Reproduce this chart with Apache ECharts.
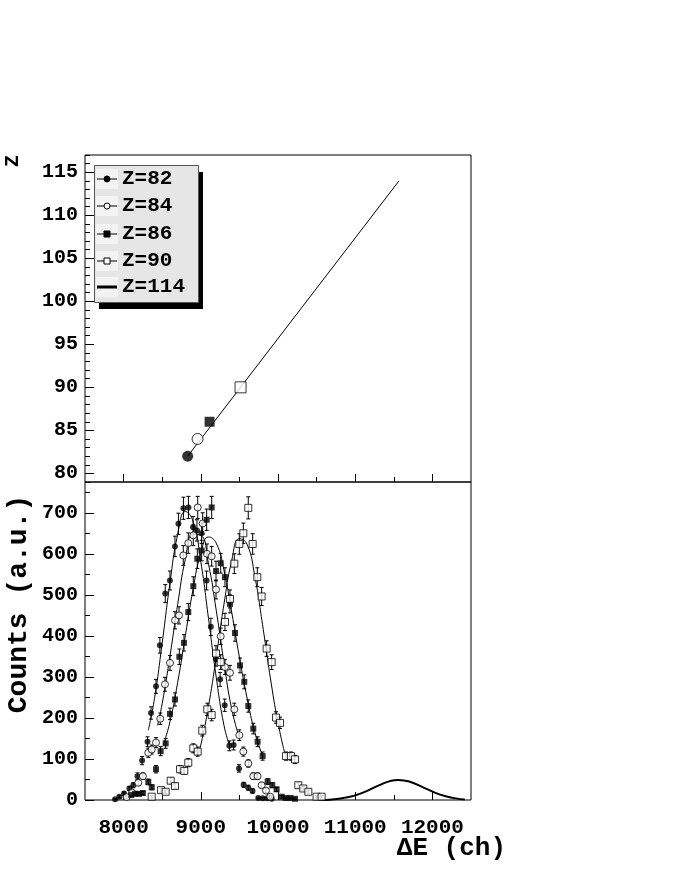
<!DOCTYPE html>
<html>
<head>
<meta charset="utf-8">
<script src="https://cdn.jsdelivr.net/npm/echarts@6.0.0/dist/echarts.min.js"></script>
<style>
  html, body { margin: 0; padding: 0; background: #fff; }
  #chart { width: 680px; height: 880px; }
</style>
</head>
<body>
<div id="chart"></div>
<script>
// upper panel: Z vs peak position
var topNames = ['Z=82', 'Z=84', 'Z=86', 'Z=90']
var topDE = [8830, 8958, 9114, 9515]
var topZ = [82, 84, 86, 90]
var lineDE = [8830, 11568]
var lineZ = [82, 114]

// lower panel: measured spectra [dE, counts, error]
var z82Pts = [[7890,2,1],[7945,8,3],[8005,16,4],[8075,28,5],[8125,36,6],[8180,58,8],[8240,96,10],[8310,142,12],[8355,212,15],[8420,277,17],[8470,377,19],[8540,503,22],[8600,535,23],[8665,618,25],[8710,673,26],[8775,711,27],[8840,713,27],[8900,665,26],[8950,657,26],[9010,650,25],[9075,535,23],[9130,422,21],[9195,345,19],[9250,294,17],[9310,231,15],[9370,132,12],[9425,134,12],[9495,77,9],[9555,37,6],[9615,30,6],[9670,22,5],[9745,5,2],[9800,4,2],[9860,4,2],[9920,3,2]]
var z84Pts = [[8040,7,3],[8110,18,4],[8190,42,6],[8250,58,8],[8320,115,11],[8365,123,11],[8420,140,12],[8475,198,14],[8536,282,17],[8601,334,18],[8666,438,21],[8718,450,21],[8773,596,24],[8838,626,25],[8903,645,25],[8960,713,27],[9024,674,26],[9080,600,24],[9141,594,24],[9197,513,23],[9258,399,20],[9313,324,18],[9378,310,18],[9434,221,15],[9499,158,13],[9551,118,11],[9616,89,9],[9680,58,8],[9736,58,8],[9788,36,6],[9844,23,5],[9900,8,3]]
var z86Pts = [[8100,12,3],[8150,15,4],[8200,15,4],[8250,17,4],[8320,44,7],[8365,31,6],[8420,75,9],[8480,119,11],[8545,138,12],[8601,210,14],[8666,245,16],[8722,349,19],[8782,383,20],[8838,458,21],[8903,521,23],[8955,588,24],[9011,608,25],[9076,683,26],[9141,713,27],[9197,558,24],[9258,577,24],[9313,543,23],[9378,478,22],[9443,407,20],[9508,328,18],[9563,288,17],[9615,229,15],[9680,174,13],[9736,142,12],[9801,107,10],[9866,45,7],[9926,36,6],[9982,26,5],[10047,8,3],[10100,5,2],[10160,5,2],[10220,3,2]]
var z90Pts = [[8364,8,3],[8485,24,5],[8545,20,4],[8610,47,7],[8666,34,6],[8731,75,9],[8786,71,8],[8838,91,10],[8903,126,11],[8960,118,11],[9019,169,13],[9084,221,15],[9141,207,14],[9197,357,19],[9258,336,18],[9313,434,21],[9378,490,22],[9434,576,24],[9499,624,25],[9551,650,25],[9615,712,27],[9672,624,25],[9732,543,23],[9788,496,22],[9853,369,19],[9918,336,18],[9974,201,14],[10026,188,14],[10104,107,10],[10168,107,10],[10220,99,10],[10263,36,6],[10328,28,5],[10393,20,4],[10500,8,3],[10565,8,3]]

// fitted curves
var fit82 = [[8320,170],[8400,247],[8500,383],[8600,528],[8700,647],[8800,703],[8900,679],[9000,581],[9100,442],[9200,299],[9300,182],[9370,135]]
var fit84 = [[8440,182],[8500,235],[8600,350],[8700,476],[8800,587],[8900,647],[9000,645],[9100,575],[9200,462],[9300,335],[9400,222],[9500,152]]
var fit86 = [[8515,135],[8600,190],[8700,286],[8800,401],[8900,514],[9000,601],[9100,641],[9200,626],[9300,560],[9400,458],[9500,348],[9600,248],[9700,165],[9800,108]]
var fit90 = [[8950,105],[9000,134],[9100,229],[9200,349],[9300,477],[9400,583],[9500,637],[9600,623],[9700,545],[9800,427],[9900,299],[10000,188],[10090,112]]
var fit114 = [[10550,0],[10700,1.5],[10900,6.5],[11100,18],[11300,35],[11450,46],[11560,49],[11700,45],[11900,29],[12100,13],[12300,4],[12420,1]]

// axis ticks
var xLabels = [8000, 9000, 10000, 11000, 12000]
var xMinor = [8500, 9500, 10500, 11500]
var zLabels = [80, 85, 90, 95, 100, 105, 110, 115]
var zMinor = []
for (var k = 79; k <= 117; k++) zMinor.push(k)
var cLabels = [0, 100, 200, 300, 400, 500, 600, 700]
var cMinor = [50, 150, 250, 350, 450, 550, 650, 750]

var mono = '"Liberation Mono", "DejaVu Sans Mono", monospace'

function plain (v) { return String(v) }

function xAxisCfg (grid, ticks, len, labels) {
  return {
    gridIndex: grid,
    type: 'value',
    position: 'bottom',
    min: 7500,
    max: 12500,
    axisLine: { show: false },
    splitLine: { show: false },
    axisTick: { inside: true, length: len, customValues: ticks, lineStyle: { color: '#000' } },
    axisLabel: labels
      ? { customValues: labels, formatter: plain, margin: 17, color: '#000', fontFamily: mono, fontWeight: 'bold', fontSize: 21 }
      : { show: false }
  }
}

function yAxisCfg (grid, min, max, ticks, len, labels) {
  return {
    gridIndex: grid,
    type: 'value',
    position: 'left',
    min: min,
    max: max,
    axisLine: { show: false },
    splitLine: { show: false },
    axisTick: { inside: true, length: len, customValues: ticks, lineStyle: { color: '#000' } },
    axisLabel: labels
      ? { customValues: labels, formatter: plain, margin: 7, color: '#000', fontFamily: mono, fontWeight: 'bold', fontSize: 20 }
      : { show: false }
  }
}

function errRender (params, api) {
  var x = api.value(0)
  var y = api.value(1)
  var e = api.value(2)
  var lo = api.coord([x, Math.max(y - e, 0)])
  var hi = api.coord([x, y + e])
  var st = { stroke: '#000', lineWidth: 1 }
  return {
    type: 'group',
    children: [
      { type: 'line', shape: { x1: lo[0], y1: lo[1], x2: hi[0], y2: hi[1] }, style: st },
      { type: 'line', shape: { x1: hi[0] - 2, y1: hi[1], x2: hi[0] + 2, y2: hi[1] }, style: st },
      { type: 'line', shape: { x1: lo[0] - 2, y1: lo[1], x2: lo[0] + 2, y2: lo[1] }, style: st }
    ]
  }
}

var filled = { color: '#000' }
var open = { color: '#fff', borderColor: '#000', borderWidth: 1 }
var markStyles = [
  { sym: 'circle', item: filled, top: 11, bot: 6 },
  { sym: 'circle', item: open, top: 11, bot: 7 },
  { sym: 'rect', item: filled, top: 10, bot: 6 },
  { sym: 'rect', item: open, top: 11, bot: 7 }
]
var spectra = [z82Pts, z84Pts, z86Pts, z90Pts]
var fits = [fit82, fit84, fit86, fit90]

var series = []
// upper panel
series.push({
  type: 'line',
  xAxisIndex: 0,
  yAxisIndex: 0,
  data: lineDE.map(function (d, i) { return [d, lineZ[i]] }),
  symbol: 'none',
  lineStyle: { color: '#000', width: 1 },
  silent: true
})
for (var i = 0; i < topNames.length; i++) {
  series.push({
    name: topNames[i],
    type: 'scatter',
    xAxisIndex: 0,
    yAxisIndex: 0,
    data: [[topDE[i], topZ[i]]],
    symbol: markStyles[i].sym,
    symbolSize: markStyles[i].top,
    itemStyle: markStyles[i].item,
    z: 5
  })
}
// lower panel
for (var j = 0; j < spectra.length; j++) {
  series.push({
    type: 'custom',
    xAxisIndex: 2,
    yAxisIndex: 2,
    data: spectra[j],
    encode: { x: 0, y: 1 },
    renderItem: errRender,
    silent: true,
    z: 2
  })
  series.push({
    type: 'line',
    xAxisIndex: 2,
    yAxisIndex: 2,
    data: fits[j],
    smooth: true,
    symbol: 'none',
    lineStyle: { color: '#000', width: 1 },
    silent: true,
    z: 3
  })
  series.push({
    name: topNames[j],
    type: 'scatter',
    xAxisIndex: 2,
    yAxisIndex: 2,
    data: spectra[j].map(function (p) { return [p[0], p[1]] }),
    symbol: markStyles[j].sym,
    symbolSize: markStyles[j].bot,
    itemStyle: markStyles[j].item,
    z: 4
  })
}
series.push({
  name: 'Z=114',
  type: 'line',
  xAxisIndex: 2,
  yAxisIndex: 2,
  data: fit114,
  smooth: true,
  symbol: 'none',
  lineStyle: { color: '#000', width: 2 },
  silent: true,
  z: 3
})

// legend drawn as a framed box with a hard shadow
var legendNames = ['Z=82', 'Z=84', 'Z=86', 'Z=90', 'Z=114']
var legendY = [179, 206, 234, 261, 287]
var legendEls = [
  { type: 'rect', shape: { x: 99, y: 172, width: 104, height: 137 }, style: { fill: '#000' } },
  { type: 'rect', shape: { x: 94.5, y: 165.5, width: 104, height: 137 }, style: { fill: '#e6e6e6', stroke: '#555', lineWidth: 1 } }
]
legendNames.forEach(function (name, n) {
  var y = legendY[n]
  legendEls.push({ type: 'rect', shape: { x: 96, y: y - 10, width: 22, height: 20 }, style: { fill: '#f3f3f3' } })
  legendEls.push({ type: 'line', shape: { x1: 97, y1: y, x2: 117, y2: y }, style: { stroke: '#000', lineWidth: n === 4 ? 3 : 1 } })
  if (n < 4) {
    var ms = markStyles[n]
    var fill = ms.item.color
    if (ms.sym === 'circle') {
      legendEls.push({ type: 'circle', shape: { cx: 107, cy: y, r: 3 }, style: { fill: fill, stroke: '#000', lineWidth: 1 } })
    } else {
      legendEls.push({ type: 'rect', shape: { x: 104, y: y - 3, width: 6, height: 6 }, style: { fill: fill, stroke: '#000', lineWidth: 1 } })
    }
  }
  legendEls.push({
    type: 'text',
    x: 122,
    y: y,
    style: { text: name, font: 'bold 21px ' + mono, fill: '#000', align: 'left', verticalAlign: 'middle', textAlign: 'left', textVerticalAlign: 'middle' }
  })
})

var titles = [
  { type: 'text', x: 13, y: 161, rotation: Math.PI / 2,
    style: { text: 'Z', font: 'bold 20px ' + mono, fill: '#000', align: 'center', verticalAlign: 'middle', textAlign: 'center', textVerticalAlign: 'middle' } },
  { type: 'text', x: 19, y: 604, rotation: Math.PI / 2,
    style: { text: 'Counts (a.u.)', font: 'bold 28px ' + mono, fill: '#000', align: 'center', verticalAlign: 'middle', textAlign: 'center', textVerticalAlign: 'middle' } },
  { type: 'text', x: 506, y: 848,
    style: { text: 'ΔE (ch)', font: 'bold 26px ' + mono, fill: '#000', align: 'right', verticalAlign: 'middle', textAlign: 'right', textVerticalAlign: 'middle' } }
]

var option = {
  animation: false,
  backgroundColor: '#fff',
  grid: [
    { left: 85, width: 386, top: 155, height: 327, show: true, borderColor: '#000', borderWidth: 1, backgroundColor: 'transparent' },
    { left: 85, width: 386, top: 482, height: 318, show: true, borderColor: '#000', borderWidth: 1, backgroundColor: 'transparent' }
  ],
  xAxis: [
    xAxisCfg(0, xLabels, 8, null),
    xAxisCfg(0, xMinor, 5, null),
    xAxisCfg(1, xLabels, 8, xLabels),
    xAxisCfg(1, xMinor, 5, null)
  ],
  yAxis: [
    yAxisCfg(0, 79, 117, zLabels, 9, zLabels),
    yAxisCfg(0, 79, 117, zMinor, 5, null),
    yAxisCfg(1, 0, 775, cLabels, 9, cLabels),
    yAxisCfg(1, 0, 775, cMinor, 5, null)
  ],
  series: series,
  graphic: [
    { type: 'group', z: 100, children: legendEls },
    { type: 'group', z: 100, children: titles }
  ]
}

var myChart = echarts.init(document.getElementById('chart'))
myChart.setOption(option)
</script>
</body>
</html>
